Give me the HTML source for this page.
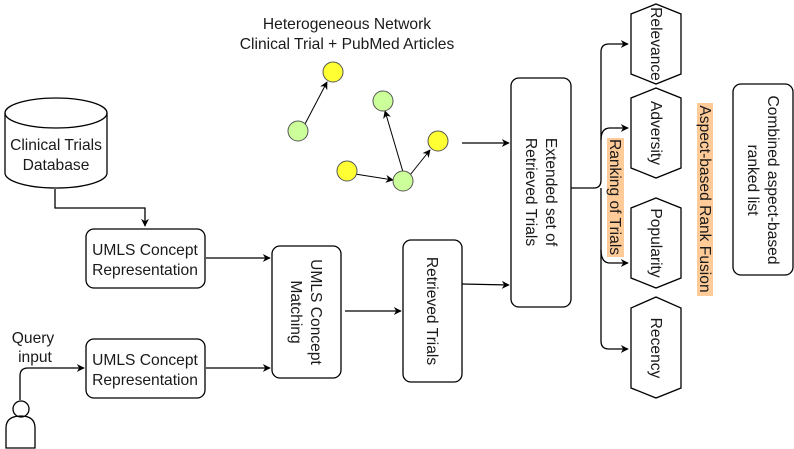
<!DOCTYPE html>
<html><head><meta charset="utf-8"><style>
html,body{margin:0;padding:0;background:#fff;}
svg{display:block;}
text{font-family:"Liberation Sans",Arial,sans-serif;font-size:15.6px;fill:#1a1a1a;}
</style></head><body>
<svg width="794" height="449" viewBox="0 0 794 449" xmlns="http://www.w3.org/2000/svg">
<defs>
<marker id="a" viewBox="0 0 10 10" refX="9" refY="5" markerWidth="8" markerHeight="8" orient="auto" markerUnits="userSpaceOnUse"><path d="M0,0 L10,5 L0,10 L3,5 Z" fill="#000"/></marker>
</defs>
<g fill="none" stroke="#000" stroke-width="1.3">
<path d="M5,113 L5,173 A51,15 0 0 0 107,173 L107,113"/>
<ellipse cx="56" cy="113" rx="51" ry="15"/>
<path d="M55,189 L55,208 L145,208 L145,226" marker-end="url(#a)"/>
<rect x="86" y="229" width="119" height="59" rx="8"/>
<rect x="86" y="339" width="119" height="59" rx="8"/>
<path d="M206,258 L270,258" marker-end="url(#a)"/>
<path d="M206,368 L270,368" marker-end="url(#a)"/>
<path d="M20,400 L20,376 Q20,368 28,368 L84,368" marker-end="url(#a)"/>
<circle cx="21" cy="409" r="8"/>
<path d="M6,448 L6,428 Q6,416 21,416 Q35,416 35,428 L35,448 Z"/>
<rect x="272" y="246" width="69" height="132" rx="8"/>
<path d="M345,311 L401,311" marker-end="url(#a)"/>
<rect x="403" y="240" width="59" height="142" rx="8"/>
<path d="M462,284 L509,285" marker-end="url(#a)"/>
<path d="M462,143 L509,143" marker-end="url(#a)"/>
<rect x="511" y="78" width="60" height="229" rx="8"/>
<path d="M305,124 L327,82" stroke-width="1" marker-end="url(#a)"/>
<path d="M403,172 L385,111" stroke-width="1" marker-end="url(#a)"/>
<path d="M355,174 L393,180" stroke-width="1" marker-end="url(#a)"/>
<path d="M410,175 L430,150" stroke-width="1" marker-end="url(#a)"/>
<path d="M571,188 L594,188 Q601,188 601,180 L601,52 Q601,44 609,44 L628,44" marker-end="url(#a)"/>
<path d="M601,140 Q601,128 610,128 L628,128" marker-end="url(#a)"/>
<path d="M601,188 L601,341 Q601,349 609,349 L628,349" marker-end="url(#a)"/>
<path d="M601,250 Q601,263 610,263 L628,263" marker-end="url(#a)"/>
<path d="M656,4 L681,14 L681,74 L656,84 L631,74 L631,14 Z"/>
<path d="M656,88 L681,98 L681,168 L656,178 L631,168 L631,98 Z"/>
<path d="M656,198 L681,208 L681,278 L656,288 L631,278 L631,208 Z"/>
<path d="M656,297 L681,308 L681,388 L656,398 L631,388 L631,308 Z"/>
<rect x="733" y="84" width="60" height="191" rx="8"/>
</g>
<g stroke-width="1">
<circle cx="333" cy="72" r="10" fill="#ffff33" stroke="#555"/>
<circle cx="298" cy="131" r="10" fill="#ccff99" stroke="#555"/>
<circle cx="383" cy="101" r="10" fill="#ccff99" stroke="#555"/>
<circle cx="438" cy="141" r="10" fill="#ffff33" stroke="#555"/>
<circle cx="347" cy="171" r="10" fill="#ffff33" stroke="#555"/>
<circle cx="403" cy="181" r="10" fill="#ccff99" stroke="#555"/>
</g>
<rect x="607" y="138" width="17" height="119" fill="#ffcc99"/>
<rect x="697" y="103" width="16" height="193" fill="#ffcc99"/>
<g text-anchor="middle">
<text x="56" y="150">Clinical Trials</text>
<text x="56" y="170">Database</text>
<text x="145" y="255">UMLS Concept</text>
<text x="145" y="275">Representation</text>
<text x="145" y="365">UMLS Concept</text>
<text x="145" y="385">Representation</text>
<text x="33" y="343">Query</text>
<text x="35" y="362">input</text>
<text x="347" y="29">Heterogeneous Network</text>
<text x="347" y="49">Clinical Trial + PubMed Articles</text>
<g transform="translate(306,312) rotate(90)"><text x="0" y="-5">UMLS Concept</text><text x="0" y="15">Matching</text></g>
<g transform="translate(432,311) rotate(90)"><text x="0" y="5">Retrieved Trials</text></g>
<g transform="translate(541,192) rotate(90)"><text x="0" y="-5">Extended set of</text><text x="0" y="15">Retrieved Trials</text></g>
<g transform="translate(656,44) rotate(90)"><text x="0" y="5">Relevance</text></g>
<g transform="translate(656,133) rotate(90)"><text x="0" y="5">Adversity</text></g>
<g transform="translate(656,243) rotate(90)"><text x="0" y="5">Popularity</text></g>
<g transform="translate(656,348) rotate(90)"><text x="0" y="5">Recency</text></g>
<g transform="translate(615,197) rotate(90)"><text x="0" y="5">Ranking of Trials</text></g>
<g transform="translate(705,199) rotate(90)"><text x="0" y="5">Aspect-based Rank Fusion</text></g>
<g transform="translate(763,180) rotate(90)"><text x="0" y="-5">Combined aspect-based</text><text x="0" y="15">ranked list</text></g>
</g>
</svg>
</body></html>
